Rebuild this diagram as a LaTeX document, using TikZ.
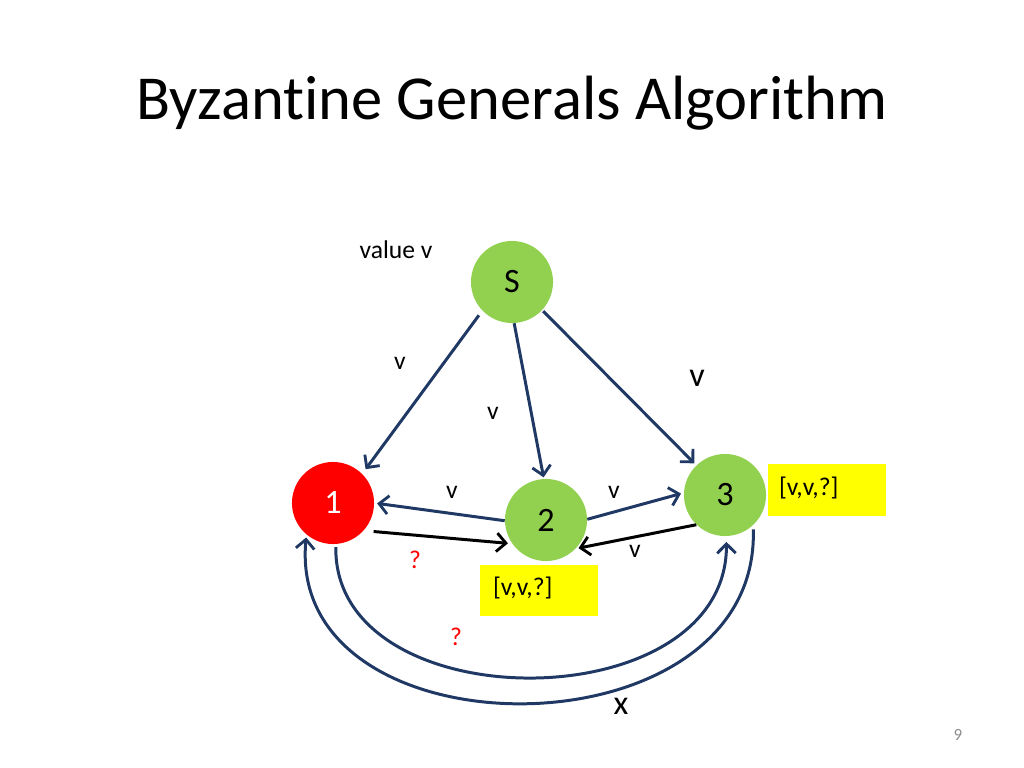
\documentclass[tikz,border=0pt]{standalone}
\usepackage{fontspec}
\setmainfont{Carlito}[Ligatures={NoCommon}]
\usetikzlibrary{arrows.meta}
\definecolor{arrblue}{HTML}{1F3864}
\definecolor{ngreen}{HTML}{92D050}
\definecolor{nred}{HTML}{FF0000}
\definecolor{nyellow}{HTML}{FFFF00}
\definecolor{pgnum}{HTML}{8C8C8C}
\tikzset{
  gen/.style={circle,minimum size=57.7pt,inner sep=0pt,font=\fontsize{24}{28}\selectfont},
  genG/.style={gen,fill=ngreen,text=black},
  genR/.style={gen,fill=nred,text=white},
  vec/.style={fill=nyellow,minimum width=83pt,minimum height=36.5pt,inner sep=0pt},
  vectext/.style={font=\fontsize{18}{22}\selectfont,anchor=west},
  lab/.style={font=\fontsize{18}{22}\selectfont},
  biglab/.style={font=\fontsize{24}{28}\selectfont},
  qlab/.style={font=\fontsize{18}{22}\selectfont,text=nred},
  tip/.style={-{Straight Barb[length=6.5pt,width=13pt,line width=2pt]}},
  barrow/.style={tip,draw=arrblue,line width=2.1pt},
  karrow/.style={tip,draw=black,line width=2.1pt},
}
\begin{document}
\begin{tikzpicture}[x=0.703125pt,y=-0.703125pt]
\useasboundingbox (0,0) rectangle (1024,768);
\node[anchor=base,font=\fontsize{44}{52}\selectfont] (title) at (512,120) {Byzantine Generals Algorithm};
\node[lab] (val) at (396,250) {value v};
\node[genG] (S) at (512,282) {S};
\node[genR] (n1) at (333,503) {1};
\node[genG] (n2) at (546,520) {2};
\node[genG] (n3) at (725,495) {3};
\node[vec] (b2) at (539,590.5) {};
\node[vectext] (t2) at (488,588) {[v,v,?]};
\node[vec] (b3) at (827,490) {};
\node[vectext] (t3) at (774,488) {[v,v,?]};
% edges from S
\draw[barrow,shorten <=4pt,shorten >=4pt] (S.224) -- (n1.45);
\draw[barrow,shorten >=1pt] (S.273) -- (n2.93);
\draw[barrow,shorten <=1pt,shorten >=2pt] (S.317) -- (n3.134);
% between lieutenants
\draw[barrow,shorten >=2pt] (n2.181) -- (n1.0);
\draw[barrow,shorten >=2pt] (n2.1) -- (n3.177);
\draw[karrow,shorten <=7pt,shorten >=3pt] (n1.-42) -- (n2.215);
\draw[karrow,shorten >=2pt] (n3.226) -- (n2.-44);
% curved
\draw[barrow,shorten <=2pt,shorten >=4pt] (n1.-86) .. controls (333,722) and (727,722) .. (n3.-88);
\draw[barrow,shorten <=3pt,shorten >=2pt] (n3.-47) .. controls (760,760) and (285,760) .. (n1.230);
% labels
\node[lab] (l1) at (400,363) {v};
\node[lab] (l2) at (493,413) {v};
\node[biglab] (l3) at (697,378) {v};
\node[lab] (l4) at (452,492) {v};
\node[lab] (l5) at (614,492) {v};
\node[lab] (l6) at (635,551) {v};
\node[qlab] (q1) at (415,560) {?};
\node[qlab] (q2) at (456,637) {?};
\node[biglab] (lx) at (621,706) {x};
\node[font=\fontsize{12}{14}\selectfont,text=pgnum] (pg) at (958,735) {9};
\end{tikzpicture}
\end{document}
